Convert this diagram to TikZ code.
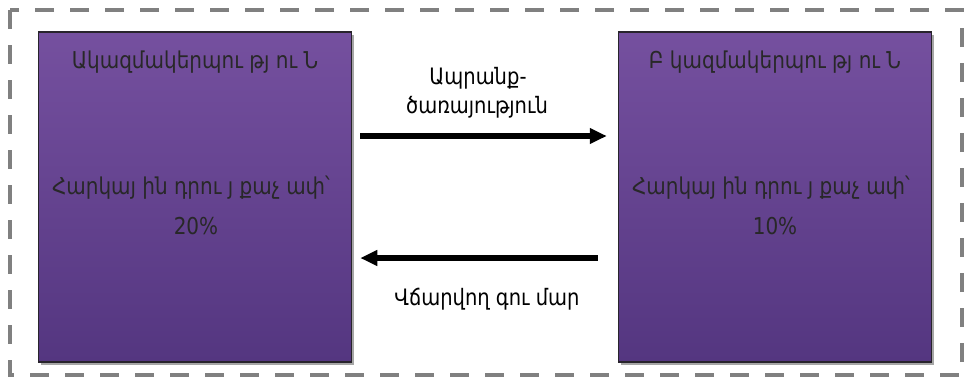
\documentclass[tikz,border=0pt]{standalone}
\usepackage{fontspec}
\setmainfont{DejaVu Sans}
\usetikzlibrary{arrows.meta,shadows,calc}
\definecolor{framegray}{RGB}{128,128,128}
\definecolor{boxtop}{RGB}{117,80,159}
\definecolor{boxbot}{RGB}{84,54,128}
\definecolor{boxedge}{RGB}{40,36,44}
\definecolor{ink}{RGB}{40,40,40}
% slightly taller lettering
\newcommand{\tallword}[1]{\scalebox{1}[1.16]{#1}}
\tikzset{
  orgbox/.style={rectangle, draw=boxedge, line width=1.5pt,
    top color=boxtop, bottom color=boxbot,
    minimum width=313pt, minimum height=330pt, inner sep=0pt,
    drop shadow={shadow xshift=2.5pt, shadow yshift=-3pt, fill=gray!70, opacity=1}},
  boxtext/.style={text=ink, font=\fontsize{20}{24}\selectfont, inner sep=0pt, anchor=base},
  arrowtext/.style={text=black, font=\fontsize{19.5}{24}\selectfont, inner sep=0pt, anchor=base},
  flow/.style={line width=5.5pt, -{Triangle[length=17pt,width=15pt]}}
}
\begin{document}
\begin{tikzpicture}[x=1pt,y=-1pt]
\useasboundingbox (0,0) rectangle (966,378);
% dashed outer frame
\draw[framegray, line width=4pt, dash pattern=on 19pt off 16pt] (10,10) rectangle (962,375);

% the two organisations
\node[orgbox] (A) at (195,197) {};
\node[orgbox] (B) at (775,197) {};

\node[boxtext] (A1) at ($(A.north)+(0,37)$) {\tallword{Ակազմակերպու թյ ու Ն}};
\node[boxtext] (A2) at ($(A.north)+(-4,163)$) {\tallword{Հարկայ ին դրու յ քաչ ափ՝}};
\node[boxtext] (A3) at ($(A.north)+(1,203)$) {\tallword{20\%}};

\node[boxtext] (B1) at ($(B.north)+(0,37)$) {\tallword{Բ կազմակերպու թյ ու Ն}};
\node[boxtext] (B2) at ($(B.north)+(-4,163)$) {\tallword{Հարկայ ին դրու յ քաչ ափ՝}};
\node[boxtext] (B3) at ($(B.north)+(0,203)$) {\tallword{10\%}};

% flows between them
\draw[flow] ($(A.east)+(8,-61)$) -- ($(B.west)+(-11,-61)$);
\draw[flow] ($(B.west)+(-20,61)$) -- ($(A.east)+(8,61)$);

\node[arrowtext] (L1) at (478,84) {\tallword{Ապրանք-}};
\node[arrowtext] (L2) at (477,113) {\tallword{ծառայություն}};
\node[arrowtext] (L3) at (487,305) {\tallword{Վճարվող գու մար}};
\end{tikzpicture}
\end{document}
